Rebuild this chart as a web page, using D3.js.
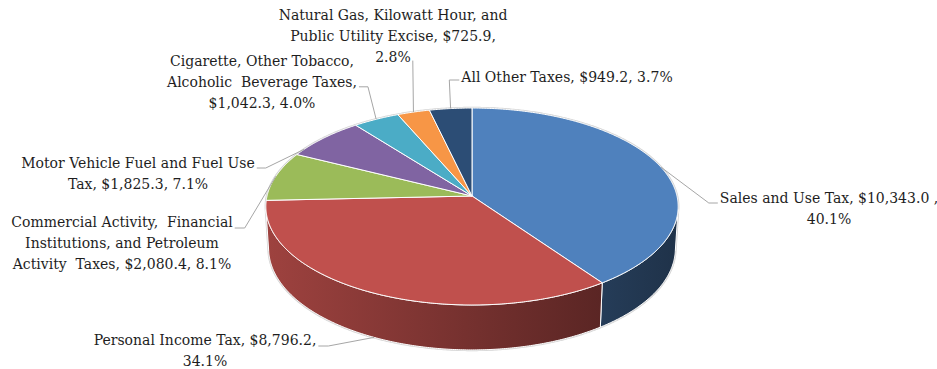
<!DOCTYPE html>
<html>
<head>
<meta charset="utf-8">
<script src="https://cdn.jsdelivr.net/npm/d3@7"></script>
<style>
  html, body { margin: 0; padding: 0; background: #ffffff; }
  svg { display: block; }
  text { font-family: "DejaVu Serif", serif; font-size: 14px; fill: #1e1e1e; white-space: pre; }
</style>
</head>
<body>
<svg id="chart" width="937" height="369"></svg>
<script>
// ---- data ----
const categories = [
  "Sales and Use Tax",
  "Personal Income Tax",
  "Commercial Activity, Financial Institutions, and Petroleum Activity Taxes",
  "Motor Vehicle Fuel and Fuel Use Tax",
  "Cigarette, Other Tobacco, Alcoholic Beverage Taxes",
  "Natural Gas, Kilowatt Hour, and Public Utility Excise",
  "All Other Taxes"
];
const values = [10343.0, 8796.2, 2080.4, 1825.3, 1042.3, 725.9, 949.2];
const percents = [40.1, 34.1, 8.1, 7.1, 4.0, 2.8, 3.7];
const labelLines = [
  ["Sales and Use Tax, $10,343.0 ,", "40.1%"],
  ["Personal Income Tax, $8,796.2,", "34.1%"],
  ["Commercial Activity,  Financial", "Institutions, and Petroleum", "Activity  Taxes, $2,080.4, 8.1%"],
  ["Motor Vehicle Fuel and Fuel Use", "Tax, $1,825.3, 7.1%"],
  ["Cigarette, Other Tobacco,", "Alcoholic  Beverage Taxes,", "$1,042.3, 4.0%"],
  ["Natural Gas, Kilowatt Hour, and", "Public Utility Excise, $725.9,", "2.8%"],
  ["All Other Taxes, $949.2, 3.7%"]
];
const colors = ["#4f81bd", "#c0504d", "#9bbb59", "#8064a2", "#4bacc6", "#f79646", "#2c4d75"];

// ---- layout (label placement, not data) ----
const labelLayout = [
  { x: 829, y: 198, side: "right", line: 0, dy: 5, stub: 9,  t: 0.5,  Y: 0 },
  { x: 205, y: 340, side: "left",  line: 0, dy: 6, stub: 10, t: 0.5,  Y: -1 },
  { x: 122, y: 222, side: "left",  line: 0, dy: 6, stub: 10, t: 0.5,  Y: 0 },
  { x: 138, y: 163, side: "left",  line: 0, dy: 5, stub: 9,  t: 0.15, Y: 0 },
  { x: 262, y: 61,  side: "left",  line: 1, dy: 5, stub: 9,  t: 0.5,  Y: 0 },
  { x: 393, y: 15,  side: "left",  line: 2, dy: 4, stub: 0,  t: 0.5,  Y: 0 },
  { x: 567, y: 77,  side: "right", line: 0, dy: 3, stub: 10, t: 0.5,  Y: 0 }
];
const lineGap = 20.8;

// ---- 3D perspective projection ----
const cam = { cx: 472, cy: 196, f: 1691, d: 8.25, s: 0.475, c: 0.88, h: 0.234 };
function proj(theta, r, Y) {
  const X = r * Math.sin(theta), Z = -r * Math.cos(theta);
  const v = Z * cam.s - Y * cam.c;
  const w = cam.d - Z * cam.c - Y * cam.s;
  return [cam.cx + cam.f * X / w, cam.cy + cam.f * v / w];
}
function arcPts(a0, a1, r, Y) {
  const n = Math.max(2, Math.ceil(Math.abs(a1 - a0) / (Math.PI / 360)));
  return d3.range(n + 1).map(i => proj(a0 + (a1 - a0) * i / n, r, Y));
}
const line = d3.line();
const svg = d3.select("#chart");
const defs = svg.append("defs");

const pie = d3.pie().sort(null).value(d => d);
const arcs = pie(values);

// visible range of the cylinder wall
const cosLim = -1 / (cam.d * cam.c);
const visA0 = Math.acos(cosLim);
const visA1 = 2 * Math.PI - visA0;
const xLeft = proj(visA1, 1, 0)[0], xRight = proj(visA0, 1, 0)[0];

// silhouette (soft gray rim)
{
  const pts = arcPts(visA1, visA0 + 2 * Math.PI, 1, 0)
    .concat(arcPts(visA0, visA1, 1, -cam.h));
  svg.append("path").attr("d", line(pts) + "Z")
    .attr("fill", "none").attr("stroke", "#d4d4d4").attr("stroke-width", 2.5);
}

// side walls
const gSide = svg.append("g");
arcs.forEach((a, i) => {
  const a0 = Math.max(a.startAngle, visA0), a1 = Math.min(a.endAngle, visA1);
  if (a1 <= a0) return;
  const base = d3.color(colors[i]);
  const gid = "side" + i;
  const gr = defs.append("linearGradient").attr("id", gid)
    .attr("gradientUnits", "userSpaceOnUse")
    .attr("x1", xLeft).attr("x2", xRight).attr("y1", 0).attr("y2", 0);
  gr.append("stop").attr("offset", 0).attr("stop-color", base.darker(0.55).formatHex());
  gr.append("stop").attr("offset", 1).attr("stop-color", base.darker(2.65).formatHex());
  const pts = arcPts(a0, a1, 1, 0).concat(arcPts(a1, a0, 1, -cam.h));
  gSide.append("path").attr("d", line(pts) + "Z")
    .attr("fill", `url(#${gid})`).attr("stroke", "#ffffff").attr("stroke-width", 1)
    .attr("stroke-linejoin", "round");
});

// top faces
const gTop = svg.append("g");
arcs.forEach((a, i) => {
  const pts = [proj(0, 0, 0)].concat(arcPts(a.startAngle, a.endAngle, 1, 0));
  gTop.append("path").attr("d", line(pts) + "Z")
    .attr("fill", colors[i]).attr("stroke", "#ffffff").attr("stroke-width", 1)
    .attr("stroke-linejoin", "round");
});

// labels + leader lines
const gLab = svg.append("g");
const gLead = svg.append("g");
arcs.forEach((a, i) => {
  const L = labelLayout[i];
  const txt = gLab.append("text").attr("text-anchor", "middle");
  const tspans = labelLines[i].map((s, k) =>
    txt.append("tspan").attr("x", L.x).attr("y", L.y + k * lineGap + 5).text(s));
  const node = tspans[L.line].node();
  const w = node.getComputedTextLength();
  const ly = L.y + L.line * lineGap + L.dy;
  let p0, p1;
  if (L.side === "left") {
    p0 = [L.x + w / 2 + 2, ly];
    p1 = [p0[0] + L.stub, ly];
  } else {
    p0 = [L.x - w / 2 - 2, ly];
    p1 = [p0[0] - L.stub, ly];
  }
  const ang = a.startAngle + (a.endAngle - a.startAngle) * L.t;
  const p2 = proj(ang, 1, L.Y * cam.h);
  gLead.append("path").attr("d", line([p0, p1, p2]))
    .attr("fill", "none").attr("stroke", "#a6a6a6").attr("stroke-width", 1);
});
</script>
</body>
</html>
